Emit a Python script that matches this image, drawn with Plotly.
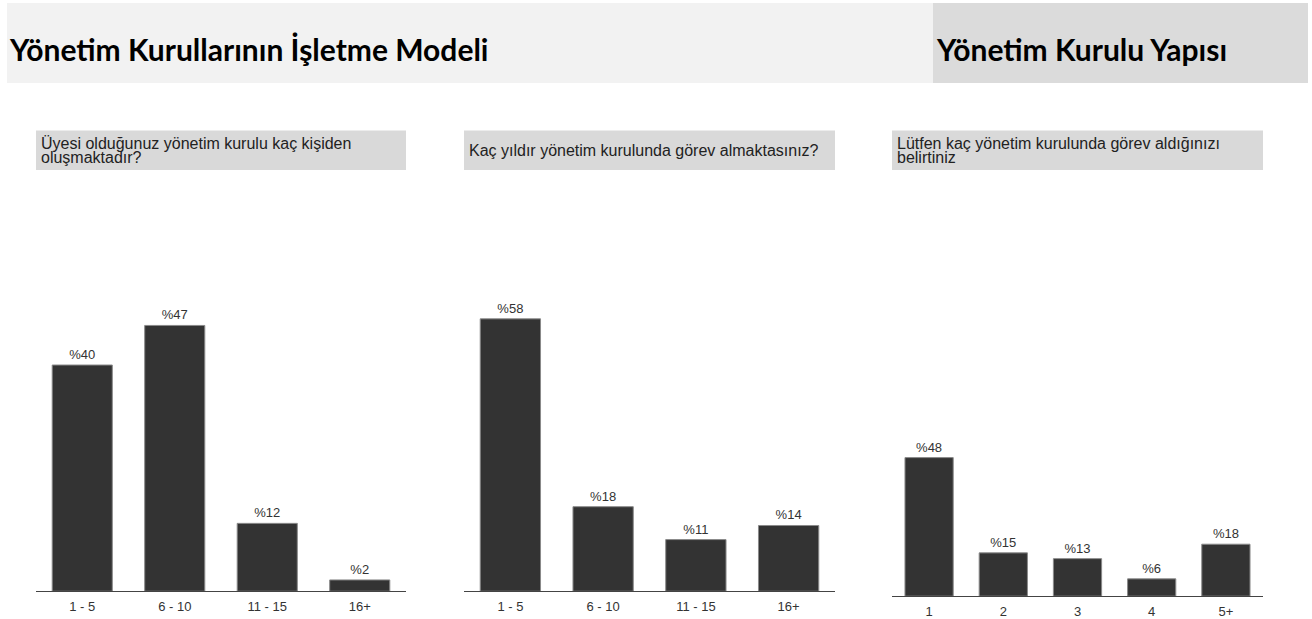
import plotly.graph_objects as go

W, H = 1312, 619

# Survey results (percent of respondents)
board_size_cats = ["1 - 5", "6 - 10", "11 - 15", "16+"]
board_size_vals = [40, 47, 12, 2]

tenure_cats = ["1 - 5", "6 - 10", "11 - 15", "16+"]
tenure_vals = [58, 18, 11, 14]

seats_cats = ["1", "2", "3", "4", "5+"]
seats_vals = [48, 15, 13, 6, 18]

section_titles = ["Yönetim Kurullarının İşletme Modeli", "Yönetim Kurulu Yapısı"]
questions = [
    ["Üyesi olduğunuz yönetim kurulu kaç kişiden", "oluşmaktadır?"],
    ["Kaç yıldır yönetim kurulunda görev almaktasınız?"],
    ["Lütfen kaç yönetim kurulunda görev aldığınızı", "belirtiniz"],
]


def px_x(p):
    return p / W


def px_y(p):
    return 1 - p / H


BODY_FONT = "Liberation Sans, Arial, sans-serif"
TITLE_FONT = "Lato, sans-serif"

# panel geometry in pixels: (left, right, axis baseline, plot top, y max)
panels = [
    (36, 406, 598, 312, 50),
    (464, 835, 598, 313, 60),
    (892, 1263, 603, 311, 100),
]
series = [
    (board_size_cats, board_size_vals),
    (tenure_cats, tenure_vals),
    (seats_cats, seats_vals),
]

fig = go.Figure()
layout = dict(
    width=W,
    height=H,
    margin=dict(l=0, r=0, t=0, b=0),
    paper_bgcolor="white",
    plot_bgcolor="white",
    showlegend=False,
    bargap=0.35,
)

for i, ((cats, vals), (l, r, base, top, ymax)) in enumerate(zip(series, panels)):
    n = "" if i == 0 else str(i + 1)
    fig.add_trace(
        go.Bar(
            x=cats,
            y=vals,
            text=["%" + str(v) for v in vals],
            textposition="outside",
            textfont=dict(family=BODY_FONT, size=13, color="#333333"),
            marker=dict(color="#333333", line=dict(color="#8a8a8a", width=1)),
            cliponaxis=False,
            hoverinfo="skip",
            xaxis="x" + n,
            yaxis="y" + n,
        )
    )
    layout["xaxis" + n] = dict(
        domain=[px_x(l), px_x(r)],
        anchor="y" + n,
        showline=True,
        linecolor="#444444",
        linewidth=1,
        ticks="outside",
        ticklen=3,
        tickcolor="rgba(0,0,0,0)",
        showgrid=False,
        zeroline=False,
        tickfont=dict(family=BODY_FONT, size=13, color="#333333"),
        fixedrange=True,
    )
    layout["yaxis" + n] = dict(
        domain=[px_y(base), px_y(top)],
        anchor="x" + n,
        range=[0, ymax],
        visible=False,
        fixedrange=True,
    )

shapes = [
    # section header bands
    dict(type="rect", xref="paper", yref="paper", x0=px_x(7), x1=px_x(933),
         y0=px_y(84), y1=px_y(3), fillcolor="#f2f2f2", line=dict(width=0), layer="below"),
    dict(type="rect", xref="paper", yref="paper", x0=px_x(933), x1=px_x(1308),
         y0=px_y(84), y1=px_y(3), fillcolor="#dbdbdb", line=dict(width=0), layer="below"),
]

annotations = [
    dict(text="<b>" + section_titles[0] + "</b>", x=px_x(7), y=px_y(50),
         xanchor="left", yanchor="middle", showarrow=False, xref="paper", yref="paper",
         font=dict(family=TITLE_FONT, size=30, color="#000000")),
    dict(text="<b>" + section_titles[1] + "</b>", x=px_x(934), y=px_y(50),
         xanchor="left", yanchor="middle", showarrow=False, xref="paper", yref="paper",
         font=dict(family=TITLE_FONT, size=30, color="#000000")),
]

# question boxes above each panel
box_top, box_bottom = 132, 172
line_gap = 14
for (l, r, *_), lines in zip(panels, questions):
    shapes.append(dict(type="rect", xref="paper", yref="paper", x0=px_x(l), x1=px_x(r),
                       y0=px_y(box_bottom), y1=px_y(box_top), fillcolor="#d9d9d9",
                       line=dict(width=0), layer="below"))
    mid = (box_top + box_bottom) / 2
    first = mid - line_gap * (len(lines) - 1) / 2
    for k, line in enumerate(lines):
        annotations.append(dict(
            text=line, x=px_x(l + 3), y=px_y(first + k * line_gap),
            xanchor="left", yanchor="middle", showarrow=False,
            xref="paper", yref="paper",
            font=dict(family=BODY_FONT, size=16, color="#222222"),
        ))

layout["shapes"] = shapes
layout["annotations"] = annotations
fig.update_layout(**layout)

fig.write_html("out.html", config={"displayModeBar": False})
